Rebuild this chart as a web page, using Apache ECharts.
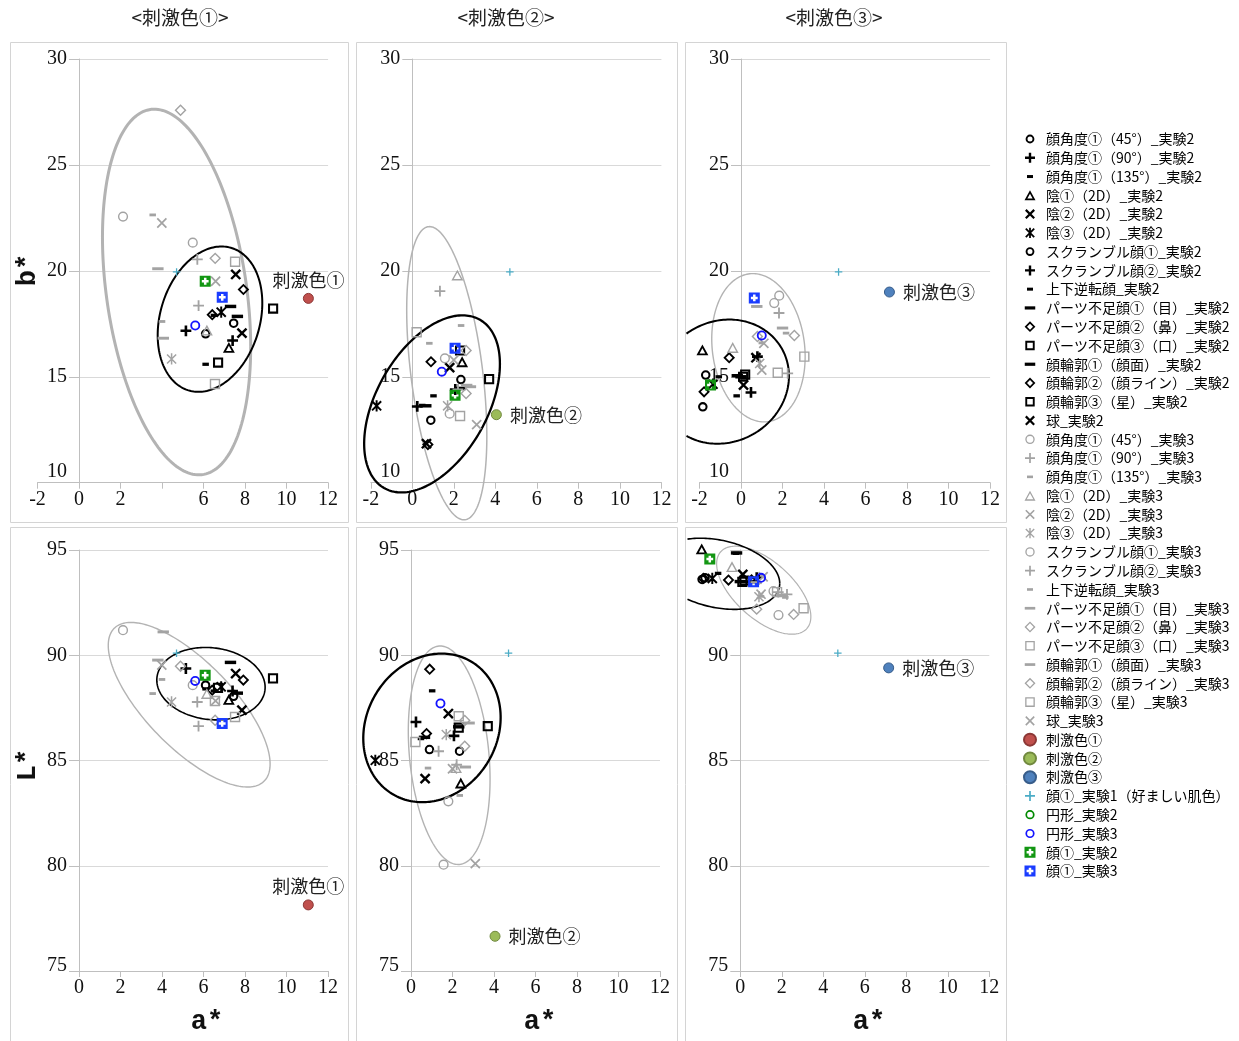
<!DOCTYPE html>
<html><head><meta charset="utf-8">
<script src="https://cdn.jsdelivr.net/npm/echarts@6/dist/echarts.min.js"></script>
<style>html,body{margin:0;padding:0;background:#fff}#c{width:1239px;height:1041px}</style>
</head><body><div id="c"></div>
<script>
// ---------------- DATA ----------------
const NAMES = [
 '顔角度①（45°）_実験2','顔角度①（90°）_実験2','顔角度①（135°）_実験2','陰①（2D）_実験2','陰②（2D）_実験2','陰③（2D）_実験2',
 'スクランブル顔①_実験2','スクランブル顔②_実験2','上下逆転顔_実験2','パーツ不足顔①（目）_実験2','パーツ不足顔②（鼻）_実験2','パーツ不足顔③（口）_実験2',
 '顔輪郭①（顔面）_実験2','顔輪郭②（顔ライン）_実験2','顔輪郭③（星）_実験2','球_実験2',
 '顔角度①（45°）_実験3','顔角度①（90°）_実験3','顔角度①（135°）_実験3','陰①（2D）_実験3','陰②（2D）_実験3','陰③（2D）_実験3',
 'スクランブル顔①_実験3','スクランブル顔②_実験3','上下逆転顔_実験3','パーツ不足顔①（目）_実験3','パーツ不足顔②（鼻）_実験3','パーツ不足顔③（口）_実験3',
 '顔輪郭①（顔面）_実験3','顔輪郭②（顔ライン）_実験3','顔輪郭③（星）_実験3','球_実験3',
 '刺激色①','刺激色②','刺激色③','顔①_実験1（好ましい肌色）','円形_実験2','円形_実験3','顔①_実験2','顔①_実験3'
];
// stimulus colour 1 : a*, b*, L*
const A1 = [7.45,5.15,6.1,7.22,7.85,6.85,6.1,7.4,6.5,7.3,7.92,9.35,7.63,6.42,6.7,7.55,
            2.12,5.7,3.55,6.16,3.99,4.46,5.48,5.76,4.0,3.8,4.89,7.52,4.06,6.56,6.55,6.58,
            11.05,null,null,4.7,null,5.6,6.08,6.9];
const B1 = [17.53,17.17,15.59,16.39,17.06,18.05,17.03,16.71,17.9,18.32,19.12,18.22,17.85,17.93,15.67,19.83,
            22.56,20.54,22.64,17.2,22.26,15.84,21.33,18.36,17.61,20.1,27.58,20.43,16.82,20.59,14.66,19.51,
            18.7,null,null,19.95,null,17.42,19.51,18.75];
const L1 = [88.05,89.37,88.4,87.9,87.39,88.5,88.58,88.3,88.3,89.66,88.82,88.9,88.2,88.34,88.45,89.13,
            91.19,87.78,88.18,88.18,89.53,87.78,88.58,86.63,88.85,89.77,89.48,87.07,91.11,86.91,87.83,87.83,
            78.14,null,null,90.1,null,88.78,89.05,86.76];
// stimulus colour 2
const A2 = [2.34,0.24,1.02,2.4,0.68,-1.72,0.89,2.07,0.48,2.3,0.9,3.7,0.65,0.75,2.3,1.8,
            1.57,1.33,2.35,2.17,2.0,1.7,1.8,2.2,0.82,2.8,2.59,0.21,2.62,2.59,2.3,3.1,
            null,4.05,null,4.7,null,1.42,2.06,2.06];
const B2 = [14.87,13.6,14.1,15.71,11.84,13.63,12.95,14.4,13.65,14.45,15.71,14.89,13.63,11.8,16.24,15.43,
            15.87,19.04,17.42,19.8,15.79,13.63,13.26,14.4,16.58,14.53,16.24,17.1,14.6,14.21,13.15,12.74,
            null,13.21,null,19.95,null,15.24,14.13,16.35];
const L2 = [85.44,86.83,88.31,83.93,84.14,85.01,85.52,86.17,86.04,86.6,89.34,86.63,86.1,86.28,86.56,87.23,
            80.05,85.44,83.34,84.66,84.61,86.23,83.06,84.8,84.64,86.78,85.68,85.88,84.69,86.9,87.1,80.1,
            null,76.65,null,90.1,null,87.71,null,null];
// stimulus colour 3
const A3 = [-1.7,0.48,-1.07,-1.86,0.12,-1.35,-1.84,0.79,-0.21,-0.18,-0.57,0.1,0.0,-1.78,0.2,0.72,
            1.84,2.25,2.17,-0.4,1.1,0.9,1.6,1.83,1.0,0.76,2.57,3.05,2.0,0.79,1.77,1.0,
            null,null,7.15,4.7,null,1.0,-1.47,0.64];
const B3 = [15.08,14.26,15.0,16.27,14.61,14.65,13.58,15.95,14.1,15.05,15.9,15.0,15.0,14.29,15.1,15.9,
            18.83,15.16,17.06,16.38,16.58,15.63,18.48,18.01,16.6,18.32,16.95,15.95,17.3,16.9,15.19,15.32,
            null,null,19.0,19.95,null,16.95,14.61,18.72];
const L3 = [93.68,93.5,93.89,95.05,93.84,93.65,93.6,93.68,94.84,94.86,93.57,93.49,93.5,93.65,93.55,93.6,
            91.91,92.89,92.75,94.21,93.73,92.78,93.05,93.0,92.8,93.45,91.94,92.23,92.86,92.19,93.0,92.9,
            null,null,89.4,90.1,null,93.68,94.57,93.49];
// ellipses: [centre a*, centre value, half-extent a*, half-extent value, correlation]
const ELL_AB_EXP2 = [[6.31,17.72,2.52,3.43,0.22],[0.95,13.72,3.27,4.18,0.45],[-0.85,14.77,3.16,2.93,0.09]];
const ELL_AB_EXP3 = [[4.70,19.0,3.57,8.63,-0.30],[1.66,15.17,1.93,6.92,-0.43],[0.84,16.37,2.25,3.5,-0.12]];
const ELL_AL_EXP2 = [[6.36,88.65,2.61,1.72,-0.1],[1.01,86.55,3.31,3.53,0.14],[-1.1,93.87,3.0,1.69,-0.27]];
const ELL_AL_EXP3 = [[5.31,87.65,3.9,3.91,-0.72],[1.84,85.25,1.97,5.19,-0.22],[1.13,93.09,2.27,2.09,-0.6]];
const COL_TITLES = ['<刺激色①>','<刺激色②>','<刺激色③>'];

// ---------------- SYMBOLS ----------------
function f(n){return +n.toFixed(2);}
function poly(p){return 'M'+p.map(q=>f(q[0])+' '+f(q[1])).join('L')+'Z';}
function rev(p){return p.slice().reverse();}
function P(s){return 'path://M0 0M12 12'+s;}
function ringCircle(r,t){const ri=r-t;return `M${f(6-r)} 6A${r} ${r} 0 0 1 ${f(6+r)} 6A${r} ${r} 0 0 1 ${f(6-r)} 6Z M${f(6-ri)} 6A${f(ri)} ${f(ri)} 0 0 0 ${f(6+ri)} 6A${f(ri)} ${f(ri)} 0 0 0 ${f(6-ri)} 6Z`;}
function ringSquare(h,t){const hi=h-t;return poly([[6-h,6-h],[6+h,6-h],[6+h,6+h],[6-h,6+h]])+poly(rev([[6-hi,6-hi],[6+hi,6-hi],[6+hi,6+hi],[6-hi,6+hi]]));}
function ringDiamond(h,t){const hi=h-t*Math.SQRT2;return poly([[6,6-h],[6+h,6],[6,6+h],[6-h,6]])+poly(rev([[6,6-hi],[6+hi,6],[6,6+hi],[6-hi,6]]));}
function ringTriangle(t){const o=[[6,1],[11.5,11],[0.5,11]];const c=[6,7.75],ri=3.25,k=(ri-t)/ri;return poly(o)+poly(rev(o.map(p=>[c[0]+(p[0]-c[0])*k,c[1]+(p[1]-c[1])*k])));}
function plus(len,t){const a=6-len/2,b=6+len/2,c=6-t/2,d=6+t/2;return poly([[a,c],[b,c],[b,d],[a,d]])+poly([[c,a],[d,a],[d,b],[c,b]]);}
function dash(w,h){return poly([[6-w/2,6-h/2],[6+w/2,6-h/2],[6+w/2,6+h/2],[6-w/2,6+h/2]]);}
function cross(h,t){const o=t/2/Math.SQRT2;return poly([[6-h+o,6-h-o],[6+h+o,6+h-o],[6+h-o,6+h+o],[6-h-o,6-h+o]])+poly([[6+h+o,6-h+o],[6-h+o,6+h+o],[6-h-o,6+h-o],[6+h-o,6-h-o]]);}
function aster(h,t){return cross(h,t)+poly([[6-t/2,0.8],[6+t/2,0.8],[6+t/2,11.2],[6-t/2,11.2]]);}
function faceSq(){const c=1.25;return poly([[0.5,0.5],[11.5,0.5],[11.5,11.5],[0.5,11.5]])+poly(rev([[6-c,2.6],[6+c,2.6],[6+c,6-c],[9.4,6-c],[9.4,6+c],[6+c,6+c],[6+c,9.4],[6-c,9.4],[6-c,6+c],[2.6,6+c],[2.6,6-c],[6-c,6-c]]));}
const KIND = ['circ','plus','sdash','tri','x','ast','circ','plus','sdash','ldash','dia','sq','ldash','dia','sq','x'];
const SYM_BLACK = {circ:P(ringCircle(4.4,1.9)),plus:P(plus(10,2.4)),sdash:P(dash(6,3)),ldash:P(dash(10.5,3.2)),tri:P(ringTriangle(1.7)),
  x:P(cross(4.2,2.2)),ast:P(aster(4.2,1.8)),dia:P(ringDiamond(5.4,1.7)),sq:P(ringSquare(4.7,1.9))};
const SYM_GRAY = {circ:P(ringCircle(4.7,1.3)),plus:P(plus(10,1.7)),sdash:P(dash(6,2.6)),ldash:P(dash(10.5,2.7)),tri:P(ringTriangle(1.3)),
  x:P(cross(4.2,1.6)),ast:P(aster(4.2,1.4)),dia:P(ringDiamond(5.5,1.3)),sq:P(ringSquare(4.8,1.3))};

function styleOf(k){
  if(k<16) return {symbol:SYM_BLACK[KIND[k]],size:13,color:'#000'};
  if(k<32) return {symbol:SYM_GRAY[KIND[k-16]],size:13,color:'#a3a3a3'};
  if(k===32) return {symbol:'circle',size:10,color:'#c0504d',border:'#8c3836'};
  if(k===33) return {symbol:'circle',size:10,color:'#9bbb59',border:'#71893f'};
  if(k===34) return {symbol:'circle',size:10,color:'#4f81bd',border:'#385d8a'};
  if(k===35) return {symbol:P(plus(10,1.7)),size:9,color:'#4bacc6'};
  if(k===36) return {symbol:P(ringCircle(4.6,1.7)),size:13,color:'#008a00'};
  if(k===37) return {symbol:P(ringCircle(4.6,1.7)),size:13,color:'#1414ff'};
  if(k===38) return {symbol:P(faceSq()),size:12,color:'#129612'};
  return {symbol:P(faceSq()),size:12,color:'#1a3cff'};
}

// ---------------- LAYOUT ----------------
const UX = 290.6/14; // px per a* unit in the top panels
const GRIDS = [
 {left:37.5,top:59,width:290.6,height:423.7},{left:370.8,top:59,width:290.6,height:423.7},{left:699.5,top:59,width:290.6,height:423.7},
 {left:79,top:550,width:249,height:421},{left:411,top:550,width:249,height:421},{left:740.3,top:550,width:249,height:421}
];
// overlay grids (a* from 0 to 12) carrying the b* axis of the top panels
GRIDS.push(...[0,1,2].map(i=>({left:GRIDS[i].left+2*UX,top:59,width:12*UX,height:423.7})));
const BOX_LEFT = [10,356,685];
const AS=[A1,A2,A3], BS=[B1,B2,B3], LS=[L1,L2,L3];
const serif = 'Liberation Serif';
const cjk = 'Noto Sans CJK JP';

function ellipseRender(clipX,color,width){
  return function(params,api){
    const cx=api.value(0),cy=api.value(1),hx=api.value(2),hy=api.value(3),r=api.value(4);
    const s=Math.sqrt(1-r*r);
    const runs=[];let cur=[];
    for(let i=0;i<=200;i++){
      const t=i/200*Math.PI*2;
      const p=api.coord([cx+hx*Math.cos(t),cy+hy*(r*Math.cos(t)+s*Math.sin(t))]);
      if(p[0]>=clipX) cur.push(p); else {if(cur.length>1) runs.push(cur); cur=[];}
    }
    if(cur.length>1) runs.push(cur);
    return {type:'group',children:runs.map(pts=>({type:'polyline',shape:{points:pts},style:{stroke:color,lineWidth:width,fill:'none'}}))};
  };
}
const ELL_W_BLACK=[2,2.3,2,1.6,2.3,1.6];
const ELL_W_GRAY=[3,1.5,1.4,1.4,1.4,1.2];

function yAxisVisible(gi,ymin,ymax,raise,hide){
  return {gridIndex:gi,type:'value',min:ymin,max:ymax,interval:5,position:'left',
    axisLine:{show:true,onZero:false,lineStyle:{color:'#bfbfbf',width:1}},
    axisTick:{show:true,length:10,lineStyle:{color:'#bfbfbf'}},
    splitLine:{show:true,lineStyle:{color:'#d9d9d9',width:1}},
    axisLabel:{fontFamily:serif,fontSize:20,color:'#111',margin:12,
      formatter:v=>(hide!=null&&v===hide)?'':(v===ymin?'{lo|'+v+'}':String(v)),
      rich:{lo:{fontFamily:serif,fontSize:20,color:'#111',padding:[0,0,raise,0]}}}};
}

const xAxes=[],yAxes=[],series=[];
for(let p=0;p<6;p++){
  const top=p<3,s=p%3;
  xAxes.push({gridIndex:p,type:'value',min:top?-2:0,max:12,interval:2,
    axisLine:{show:true,onZero:false,lineStyle:{color:'#bfbfbf',width:1}},
    axisTick:{show:true,length:6,lineStyle:{color:'#bfbfbf'}},
    splitLine:{show:false},
    axisLabel:{fontFamily:serif,fontSize:20,color:'#111',margin:7,
      formatter:(p===0)?(v=>v===4?'':String(v)):(v=>String(v))}});
  if(top){
    yAxes.push({gridIndex:p,type:'value',min:10,max:30,interval:5,show:false,
      axisLine:{onZero:false},splitLine:{show:false}});
  } else {
    yAxes.push(yAxisVisible(p,75,95,10,p===5?95:null));
  }
  const e2=top?ELL_AB_EXP2[s]:ELL_AL_EXP2[s], e3=top?ELL_AB_EXP3[s]:ELL_AL_EXP3[s];
  const clipX=BOX_LEFT[s]+1;
  series.push({type:'custom',name:'ell3_'+p,coordinateSystem:'cartesian2d',xAxisIndex:p,yAxisIndex:p,data:[e3],encode:{x:0,y:1},
    renderItem:ellipseRender(clipX,'#b3b3b3',ELL_W_GRAY[p]),clip:false,silent:true,z:3});
  series.push({type:'custom',name:'ell2_'+p,coordinateSystem:'cartesian2d',xAxisIndex:p,yAxisIndex:p,data:[e2],encode:{x:0,y:1},
    renderItem:ellipseRender(clipX,'#000',ELL_W_BLACK[p]),clip:false,silent:true,z:3});
  const A=AS[s],V=top?BS[s]:LS[s];
  for(let k=0;k<40;k++){
    const st=styleOf(k);
    const ok=A[k]!=null&&V[k]!=null;
    const ser={type:'scatter',name:NAMES[k],xAxisIndex:p,yAxisIndex:p,data:ok?[[A[k],V[k]]]:[],
      symbol:st.symbol,symbolSize:st.size,symbolKeepAspect:true,clip:false,z:4,
      itemStyle:{color:st.color,borderColor:st.border||st.color,borderWidth:st.border?1:0,opacity:1}};
    if(k>=32&&k<=34){
      ser.label={show:true,formatter:NAMES[k],position:(s===0)?'top':'right',distance:(s===0)?4:8,
        fontFamily:cjk,fontSize:18,color:'#222'};
    }
    series.push(ser);
  }
}
// overlay axes for top panels
for(let i=0;i<3;i++){
  xAxes.push({gridIndex:6+i,type:'value',min:0,max:12,interval:2,show:false,axisLine:{onZero:false},splitLine:{show:false}});
  yAxes.push(yAxisVisible(6+i,10,30,22,null));
}

const graphic=[];
[[10,42,338,480],[356,42,321,480],[685,42,321,480],[10,527,338,514],[356,527,321,514],[685,527,321,514]].forEach(b=>{
  graphic.push({type:'rect',shape:{x:b[0]+0.5,y:b[1]+0.5,width:b[2],height:b[3]},style:{fill:'none',stroke:'#d4d4d4',lineWidth:1},z:0,silent:true});
});
[[180,18],[506,18],[834,18]].forEach((c,i)=>{
  graphic.push({type:'text',x:c[0],y:c[1],style:{text:COL_TITLES[i],fontFamily:cjk,fontSize:19,fill:'#222',align:'center',verticalAlign:'middle'},silent:true});
});
const axisNameStyle={fontFamily:'Liberation Mono',fontWeight:'bold',fontSize:27,fill:'#111',align:'center',verticalAlign:'middle'};
graphic.push({type:'text',x:28,y:270,rotation:Math.PI/2,style:Object.assign({text:'b*'},axisNameStyle),silent:true});
graphic.push({type:'text',x:28,y:765,rotation:Math.PI/2,style:Object.assign({text:'L*'},axisNameStyle),silent:true});
[207,540,869].forEach(x=>graphic.push({type:'text',x:x,y:1022,style:Object.assign({text:'a*'},axisNameStyle),silent:true}));

const chart=echarts.init(document.getElementById('c'),null,{renderer:'canvas'});
chart.setOption({
  animation:false,
  backgroundColor:'#fff',
  textStyle:{fontFamily:cjk},
  grid:GRIDS.map(g=>Object.assign({containLabel:false,outerBoundsMode:'none'},g)),
  xAxis:xAxes,yAxis:yAxes,series:series,graphic:graphic,
  legend:{data:NAMES,orient:'vertical',left:1018,top:127,itemWidth:22,itemHeight:12,itemGap:4.77,
    selectedMode:false,symbolKeepAspect:true,
    textStyle:{fontFamily:cjk,fontSize:14,color:'#000',lineHeight:14}}
});
</script></body></html>
